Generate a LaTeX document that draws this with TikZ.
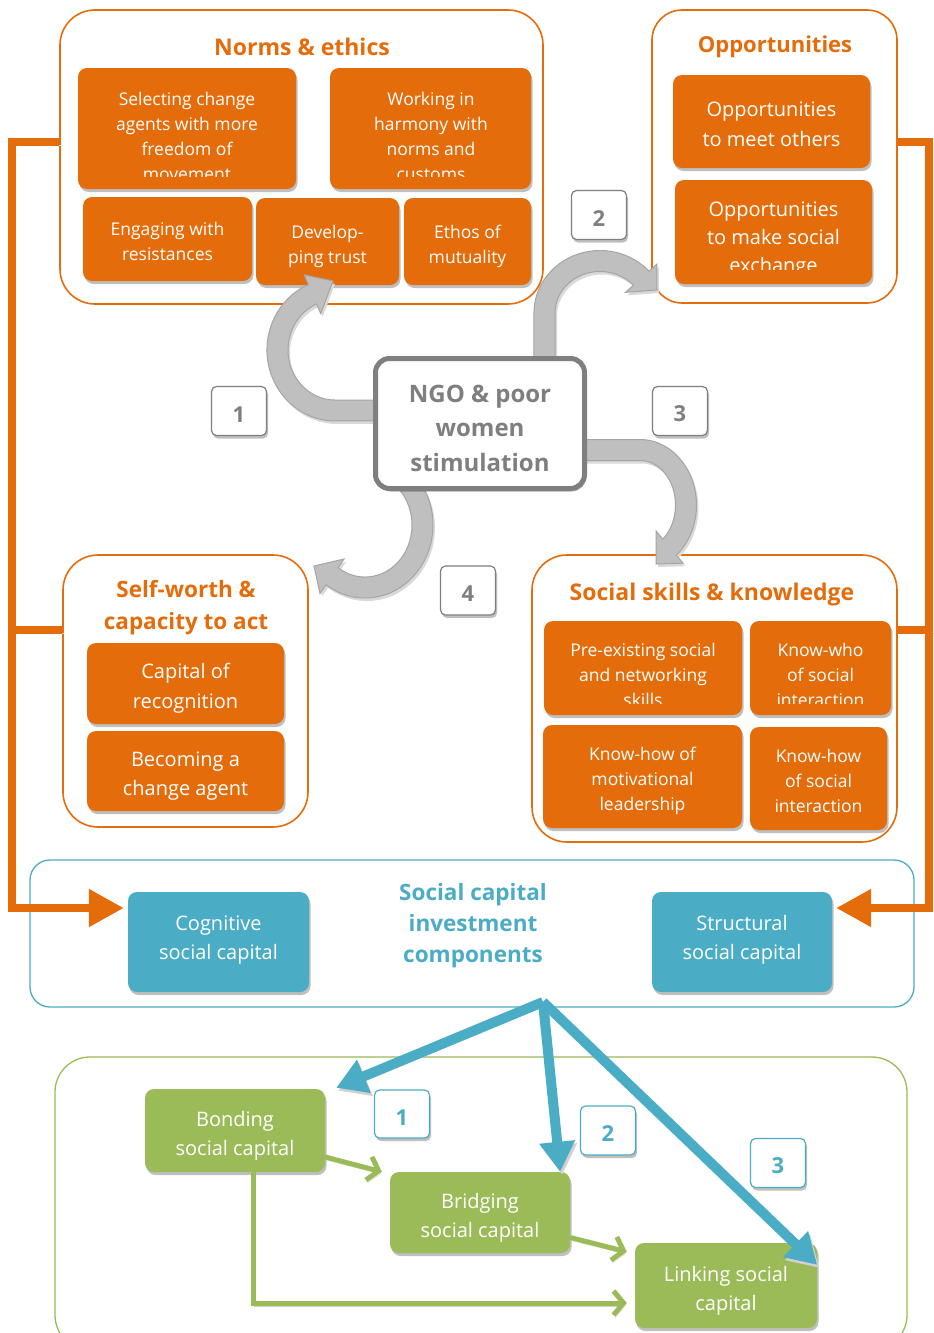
\documentclass[tikz,border=0pt]{standalone}
\usepackage{fontspec}
\setmainfont{Open Sans}
\usetikzlibrary{arrows.meta,shadows,calc}
\definecolor{orng}{HTML}{E46C0A}
\definecolor{blu}{HTML}{4BACC6}
\definecolor{grn}{HTML}{9BBB59}
\definecolor{ngog}{HTML}{7F7F7F}
\definecolor{arrf}{HTML}{BFBFBF}
\definecolor{arrl}{HTML}{A5A5A5}
\definecolor{shcol}{HTML}{D9D9D9}
\newcommand\fs[2]{\fontsize{#1}{#2}\selectfont}
\newcommand\ts[1][1.28]{\rule{0pt}{#1em}}
\def\arrA{(385,400) -- (335,400) arc[start angle=90, end angle=247, x radius=47, y radius=50] -- (320.7,313.6) -- (333,281) -- (304.3,274.9) -- (308.4,284.6) arc[start angle=247, end angle=90, x radius=68, y radius=71] -- (385,421) -- cycle}
\def\arrB{(555,365) -- (555,313) arc[start angle=180, end angle=318, x radius=45, y radius=41.5] -- (625.6,292.3) -- (657,290) -- (656.8,264.2) -- (649,271.2) arc[start angle=318, end angle=180, x radius=66, y radius=62.5] -- (534,365) -- cycle}
\def\arrC{(580,460.5) -- (640,460.5) arc[start angle=270, end angle=410, x radius=35.5, y radius=44.5] -- (656.1,531) -- (656,564) -- (683.1,563.2) -- (676.3,555.2) arc[start angle=410, end angle=270, x radius=56.5, y radius=65.5] -- (580,439.5) -- cycle}
\def\arrD{(388.5,480) arc[start angle=300, end angle=485, x radius=47, y radius=52] -- (344,559) -- (314,566) -- (320,593.4) -- (326,584.8) arc[start angle=485, end angle=300, x radius=68, y radius=73] -- cycle}
\begin{document}
\begin{tikzpicture}[x=1pt,y=-1pt,
 tdep/.style={execute at end node={\rule[-#1em]{0pt}{#1em}}},
 dshadow/.style={drop shadow={shadow xshift=1.5pt,shadow yshift=-3pt,opacity=0.25,fill=black}},
 ibox/.style={rounded corners=9pt,inner sep=0pt,text=white,align=center,dshadow,tdep=0.25},
 obox/.style={ibox,fill=orng},
 bbox/.style={ibox,fill=blu,tdep=0.42},
 gbox/.style={ibox,fill=grn},
 txt/.style={inner sep=0pt,align=center,text=white},
 outerbox/.style={draw=#1,line width=1.6pt,inner sep=0pt,fill=white},
 ttl/.style={inner sep=0pt,align=center},
 ngobox/.style={draw=ngog,line width=5pt,rounded corners=14pt,fill=white,text=ngog,inner sep=0pt,align=center,dshadow,tdep=0.25},
 numbox/.style={draw=ngog,line width=1.2pt,rounded corners=5pt,fill=white,text=ngog,inner sep=0pt,minimum width=55pt,minimum height=49pt,font=\bfseries\fs{22}{26},dshadow},
 bnumbox/.style={numbox,draw=blu,text=blu},
 oline/.style={draw=orng,line width=8pt,line join=miter,preaction={draw=black!18,transform canvas={xshift=2pt,yshift=-3pt}}},
 barrow/.style={draw=blu,line width=10pt,-{Triangle[length=30pt,width=34pt]},preaction={draw=black!18,transform canvas={xshift=2pt,yshift=-3pt}}},
 garrow/.style={draw=grn,line width=5pt,-{Straight Barb[length=10pt,width=24pt]},preaction={draw=black!18,transform canvas={xshift=1.5pt,yshift=-3pt}}},
]
\useasboundingbox (0,0) rectangle (934,1333);
\clip (0,0) rectangle (934,1333);
\fill[white] (0,0) rectangle (934,1333);

% outer frames
\node[outerbox=orng,rounded corners=35pt,minimum width=483pt,minimum height=294pt] (normsO) at (301.5,157) {};
\node[outerbox=orng,rounded corners=30pt,minimum width=245pt,minimum height=293pt] (oppO) at (774.5,156.5) {};
\node[outerbox=orng,rounded corners=35pt,minimum width=245pt,minimum height=272pt] (selfO) at (185.5,691) {};
\node[outerbox=orng,rounded corners=35pt,minimum width=365pt,minimum height=287pt] (skillsO) at (714.5,698.5) {};
\node[outerbox=blu,line width=1.3pt,rounded corners=20pt,minimum width=884pt,minimum height=147pt] (blueO) at (472,933.5) {};
\node[outerbox=grn,line width=1.3pt,rounded corners=35pt,minimum width=852pt,minimum height=293pt] (greenO) at (481,1203.5) {};

% blue components
\node[bbox,minimum width=181pt,minimum height=100pt,font=\fs{20}{29}] (cog) at (218.5,942) {Cognitive\\social capital};
\node[bbox,minimum width=180pt,minimum height=100pt,font=\fs{20}{29}] (struct) at (742,942) {Structural\\social capital};

% orange connectors
\coordinate (LT) at (12,142);
\coordinate (LB) at (12,908);
\coordinate (RT) at (929,142);
\coordinate (RB) at (929,908);
\draw[oline] ([yshift=61pt]selfO.west) -- ++(-52,0);
\draw[oline] ([yshift=68.5pt]skillsO.east) -- ++(34,0);
\draw[oline,-{Triangle[length=35pt,width=36pt]},shorten >=4pt] ([yshift=15pt]normsO.west) -- (LT) -- (LB) -- ([yshift=34pt]cog.west);
\draw[oline,-{Triangle[length=35pt,width=36pt]},shorten >=4pt] ([yshift=14.5pt]oppO.east) -- (RT) -- (RB) -- ([yshift=34pt]struct.east);

% titles
\node[ttl,text=orng,font=\bfseries\fs{23}{30}] (normsT) at (302,47) {Norms \& ethics};
\node[ttl,text=orng,font=\bfseries\fs{22}{30}] (oppT) at (775,47) {Opportunities};
\node[ttl,text=orng,font=\bfseries\fs{22.5}{32}] (selfT) at (186,608) {Self-worth \&\\capacity to act};
\node[ttl,text=orng,font=\bfseries\fs{23}{30}] (skillsT) at (712,595) {Social skills \& knowledge};
\node[ttl,text=blu,font=\bfseries\fs{22.5}{31}] (blueT) at (473,926) {Social capital\\investment\\components};

% norms inner
\node[obox,minimum width=218pt,minimum height=121pt] (sel) at (187,128.5) {};
\node[obox,minimum width=201pt,minimum height=121pt] (work) at (430.5,128.5) {};
\begin{scope}
 \clip (sel.north west) rectangle ([yshift=13pt]work.south east);
 \node[txt,font=\fs{17.5}{25}] (selT) at (187,136.5) {Selecting change\\agents with more\\freedom of\\movement};
 \node[txt,font=\fs{17.5}{25}] (workT) at (431,136.5) {Working in\\harmony with\\norms and\\customs};
\end{scope}
\node[obox,minimum width=169pt,minimum height=84pt,font=\fs{17.5}{25}] (eng) at (167.5,239) {\ts Engaging with\\resistances};
\node[obox,minimum width=143pt,minimum height=87pt,font=\fs{17.5}{25}] (trust) at (327.5,241.5) {\ts Develop-\\ping trust};
\node[obox,minimum width=127pt,minimum height=87pt,font=\fs{17.5}{25}] (ethos) at (467.5,241.5) {\ts Ethos of\\mutuality};

% opportunities inner
\node[obox,minimum width=197pt,minimum height=93pt,font=\fs{20}{30}] (meet) at (771.5,121.5) {\ts Opportunities\\to meet others};
\node[obox,minimum width=197pt,minimum height=104pt] (exch) at (773.5,232) {};
\begin{scope}
 \clip (exch.north west) rectangle ([yshift=15pt]exch.south east);
 \node[txt,font=\fs{20}{28}] (exchT) at (773.5,240) {Opportunities\\to make social\\exchange};
\end{scope}

% self-worth inner
\node[obox,minimum width=197pt,minimum height=81pt,font=\fs{20}{30}] (recog) at (185.5,683.5) {\ts Capital of\\recognition};
\node[obox,minimum width=197pt,minimum height=80pt,font=\fs{20}{29}] (agent) at (185.5,771) {\ts Becoming a\\change agent};

% social skills inner
\node[obox,minimum width=198pt,minimum height=94pt] (pre) at (643,668) {};
\node[obox,minimum width=141pt,minimum height=94pt] (who) at (820.5,668) {};
\begin{scope}
 \clip (pre.north west) rectangle ([yshift=12pt]who.south east);
 \node[txt,font=\fs{17.5}{25}] (preT) at (643,675) {Pre-existing social\\and networking\\skills};
 \node[txt,font=\fs{17.5}{25}] (whoT) at (820.5,675) {Know-who\\of social\\interaction};
\end{scope}
\node[obox,minimum width=199pt,minimum height=103pt,font=\fs{17.5}{25}] (motiv) at (642.5,776.5) {\ts Know-how of\\motivational\\leadership};
\node[obox,minimum width=137pt,minimum height=103pt,font=\fs{17.5}{25}] (inter) at (818.5,778.5) {\ts Know-how\\of social\\interaction};

% gray curved arrows
\foreach \p in {\arrA,\arrB,\arrC,\arrD}{
 \fill[shcol,shift={(2,3)}] \p;
 \filldraw[fill=arrf,draw=arrl,line width=1pt] \p;
}

% centre
\node[ngobox,minimum width=209pt,minimum height=130pt,font=\bfseries\fs{24}{34.5}] (ngo) at (480,423.5) {\ts[1.34]NGO \& poor\\women\\stimulation};
\node[numbox] (n1) at (239,411) {\ts[1.0]1};
\node[numbox] (n2) at (599,215) {\ts[1.0]2};
\node[numbox] (n3) at (680,411) {\ts[1.0]3};
\node[numbox] (n4) at (468,590.5) {\ts[1.0]4};

% green boxes
\node[gbox,minimum width=180pt,minimum height=83pt,font=\fs{20}{29}] (bond) at (235,1130.5) {\ts Bonding\\social capital};
\node[gbox,minimum width=180pt,minimum height=81pt,font=\fs{20}{29}] (bridge) at (480,1212.5) {\ts Bridging\\social capital};
\node[gbox,minimum width=182pt,minimum height=85pt,font=\fs{20}{29}] (link) at (726,1285.5) {\ts Linking social\\capital};

\draw[garrow] ([yshift=-26.5pt]bond.east) -- ([xshift=-8pt]bridge.north west);
\draw[garrow] ([yshift=-25pt]bridge.east) -- ([xshift=-8pt,yshift=-9pt]link.north west);
\draw[garrow] ([xshift=18pt]bond.south) |- ([xshift=-8pt,yshift=-17.5pt]link.west);

% blue arrows
\coordinate (src) at (543,1002);
\draw[barrow] (src) -- ([xshift=11pt,yshift=1pt]bond.north east);
\draw[barrow] (src) -- ([xshift=-10pt]bridge.north east);
\draw[barrow] (src) -- ([yshift=-22pt]link.north east);

\node[bnumbox,minimum height=48pt] (b1) at (402,1114) {\ts[1.0]1};
\node[bnumbox] (b2) at (608,1130.5) {\ts[1.0]2};
\node[bnumbox] (b3) at (778,1163) {\ts[1.0]3};
\end{tikzpicture}
\end{document}
